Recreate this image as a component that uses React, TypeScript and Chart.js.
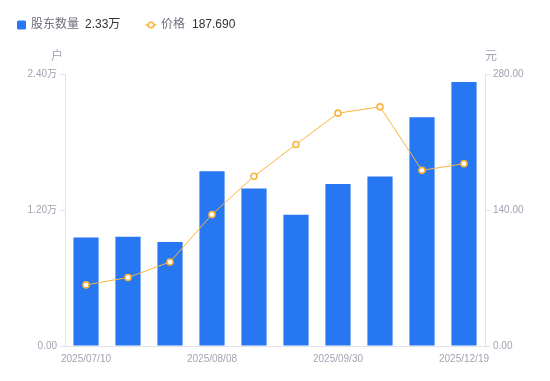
import React, { useEffect, useRef } from "react";
import { Chart, registerables } from "chart.js";

Chart.register(...registerables);

const categories = [
  "2025/07/10", "2025/07/20", "2025/07/31", "2025/08/08", "2025/08/20",
  "2025/08/29", "2025/09/30", "2025/10/31", "2025/11/28", "2025/12/19",
];
// 股东数量 (万户)
const holders = [0.958, 0.964, 0.917, 1.541, 1.389, 1.158, 1.43, 1.495, 2.019, 2.33];
// 价格 (元)
const prices = [62.9, 70.5, 86.5, 135.4, 174.7, 207.5, 239.7, 246.2, 180.8, 187.69];
const leftTicks = [0, 1.2, 2.4];
const rightTicks = [0, 140, 280];
const holdersLabel = "股东数量";
const priceLabel = "价格";
const holdersLatest = "2.33万";
const priceLatest = "187.690";

const BLUE = "#2777f2";
const ORANGE = "#fbb33a";
const AXIS = "#e2e2ea";
const TICK = "#a3a3b3";
const FONT = "'Liberation Sans', 'Noto Sans CJK SC', sans-serif";

export default function App() {
  const ref = useRef<HTMLCanvasElement | null>(null);

  useEffect(() => {
    document.body.style.margin = "0";
    const canvas = ref.current!;
    const overlay = {
      id: "overlay",
      afterDraw(chart: any) {
        const ctx = chart.ctx;
        ctx.save();
        // legend
        ctx.textBaseline = "middle";
        ctx.font = `12px ${FONT}`;
        const ly = 25;
        ctx.fillStyle = BLUE;
        ctx.beginPath();
        (ctx as any).roundRect ? (ctx as any).roundRect(17, 20.5, 9, 9, 1.5) : ctx.rect(17, 20.5, 9, 9);
        ctx.fill();
        ctx.textAlign = "left";
        ctx.fillStyle = "#6e6e7e";
        ctx.fillText(holdersLabel, 31, ly);
        ctx.fillStyle = "#333333";
        ctx.fillText(holdersLatest, 85, ly);
        // price legend icon
        ctx.strokeStyle = ORANGE;
        ctx.lineWidth = 1.5;
        ctx.beginPath();
        ctx.moveTo(145.5, ly);
        ctx.lineTo(156.5, ly);
        ctx.stroke();
        ctx.beginPath();
        ctx.arc(151, ly, 2.8, 0, Math.PI * 2);
        ctx.fillStyle = "#fff";
        ctx.fill();
        ctx.stroke();
        ctx.fillStyle = "#6e6e7e";
        ctx.fillText(priceLabel, 161, ly);
        ctx.fillStyle = "#333333";
        ctx.fillText(priceLatest, 192, ly);
        // axis units
        const ca = chart.chartArea;
        ctx.font = `12px ${FONT}`;
        ctx.fillStyle = TICK;
        ctx.textAlign = "right";
        ctx.fillText("户", ca.left - 2, 57);
        ctx.textAlign = "left";
        ctx.fillText("元", ca.right, 57);
        ctx.restore();
      },
    };

    const chart = new Chart(canvas, {
      data: {
        labels: categories,
        datasets: [
          {
            type: "line",
            label: priceLabel,
            data: prices,
            yAxisID: "y1",
            borderColor: ORANGE,
            borderWidth: 1,
            pointRadius: 3,
            pointBorderWidth: 1.6,
            pointBackgroundColor: "#ffffff",
            pointBorderColor: ORANGE,
            tension: 0,
            order: 0,
          },
          {
            type: "bar",
            label: holdersLabel,
            data: holders,
            yAxisID: "y",
            backgroundColor: BLUE,
            categoryPercentage: 1,
            barPercentage: 0.6,
            order: 1,
          },
        ],
      } as any,
      options: {
        animation: false,
        responsive: false,
        maintainAspectRatio: false,
        layout: { padding: { top: 74, left: 0, right: 0, bottom: 0 } },
        plugins: { legend: { display: false }, tooltip: { enabled: false } },
        scales: {
          x: {
            grid: { display: true, drawOnChartArea: false, drawTicks: false, color: AXIS },
            border: { display: true, color: AXIS },
            ticks: {
              autoSkip: false,
              maxRotation: 0,
              padding: 7,
              color: TICK,
              font: { size: 10, family: FONT },
              callback: (_v: any, i: number) => (i % 3 === 0 ? categories[i] : ""),
            },
            afterFit: (s: any) => { s.height = 35; },
          },
          y: {
            position: "left",
            min: 0,
            max: 2.4,
            afterBuildTicks: (s: any) => { s.ticks = leftTicks.map((v) => ({ value: v })); },
            grid: { drawOnChartArea: false, drawTicks: true, tickLength: 5, color: AXIS },
            border: { display: true, color: AXIS },
            ticks: {
              padding: 3,
              color: TICK,
              font: { size: 10, family: FONT },
              callback: (v: any) => (v === 0 ? "0.00" : Number(v).toFixed(2) + "万"),
            },
            afterFit: (s: any) => { s.width = 65; },
          },
          y1: {
            position: "right",
            min: 0,
            max: 280,
            afterBuildTicks: (s: any) => { s.ticks = rightTicks.map((v) => ({ value: v })); },
            grid: { drawOnChartArea: false, drawTicks: true, tickLength: 5, color: AXIS },
            border: { display: true, color: AXIS },
            ticks: {
              padding: 3,
              color: TICK,
              font: { size: 10, family: FONT },
              callback: (v: any) => Number(v).toFixed(2),
            },
            afterFit: (s: any) => { s.width = 65; },
          },
        },
      } as any,
      plugins: [overlay],
    });
    return () => chart.destroy();
  }, []);

  return (
    <div style={{ width: 550, height: 381 }}>
      <canvas ref={ref} width={550} height={381} style={{ display: "block" }} />
    </div>
  );
}
